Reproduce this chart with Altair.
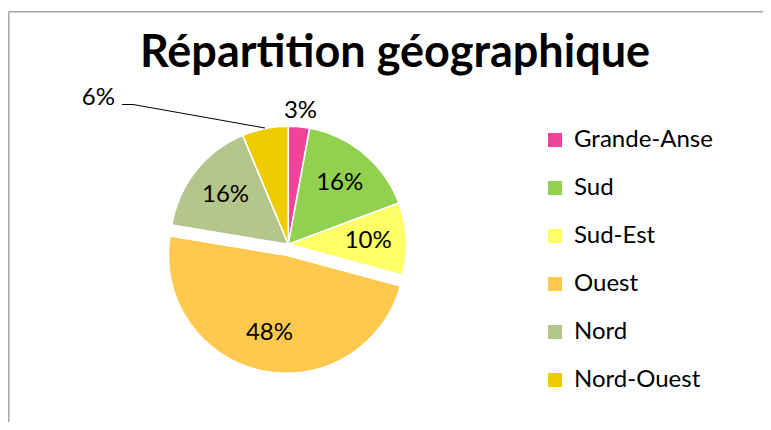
import altair as alt
import pandas as pd

regions = ["Grande-Anse", "Sud", "Sud-Est", "Ouest", "Nord", "Nord-Ouest"]
values = [2.9, 16.4, 9.9, 48.4, 16.1, 6.3]
labels = ["3%", "16%", "10%", "48%", "16%", "6%"]
colors = ["#F0449B", "#92D050", "#FFFF66", "#FFC94F", "#B4C68C", "#EECC00"]
title_text = ["Répartition géographique"]

df = pd.DataFrame({"region": regions, "value": values, "label": labels,
                   "order": list(range(len(regions)))})
tdf = pd.DataFrame({"t": title_text})

FONT = "Lato"
CX, CY = 280.3, 166.3      # pie centre (view coords)
EX, EY = 278.4, 177.3      # exploded slice centre
R = 118

base = alt.Chart(df).transform_window(
    cum="sum(value)", sort=[alt.SortField("order")], frame=[None, 0]
).transform_joinaggregate(total="sum(value)").transform_calculate(
    t1="datum.cum / datum.total * 2 * PI",
    t0="(datum.cum - datum.value) / datum.total * 2 * PI",
).transform_calculate(mid="(datum.t0 + datum.t1) / 2")

color = alt.Color("region:N", scale=alt.Scale(domain=regions, range=colors),
                  sort=regions,
                  legend=alt.Legend(title=None, orient="none", legendX=535, legendY=50,
                                    symbolType="square", symbolSize=196,
                                    symbolStrokeWidth=0, labelFont=FONT,
                                    labelFontSize=24, labelColor="#000000",
                                    labelOffset=7, rowPadding=24, padding=0,
                                    labelLimit=300))

arcs_main = base.transform_filter("datum.region != 'Ouest'").mark_arc(
    radius=R, stroke="white", strokeWidth=1.5
).encode(theta=alt.Theta("t0:Q", scale=None), theta2="t1:Q", color=color,
         x=alt.value(CX), y=alt.value(CY))

arcs_expl = base.transform_filter("datum.region == 'Ouest'").mark_arc(
    radius=R, stroke="white", strokeWidth=1.5
).encode(theta=alt.Theta("t0:Q", scale=None), theta2="t1:Q", color=color,
         x=alt.value(EX), y=alt.value(EY))

txt = dict(font=FONT, fontSize=24, color="#000000", align="center", baseline="middle")

lab_inner = base.transform_filter(
    "datum.region == 'Sud' || datum.region == 'Sud-Est' || datum.region == 'Nord'"
).mark_text(**txt).encode(theta=alt.Theta("mid:Q", scale=None),
                          radius=alt.value(80), text="label:N",
                          x=alt.value(CX), y=alt.value(CY))

lab_ouest = base.transform_filter("datum.region == 'Ouest'").mark_text(**txt).encode(
    theta=alt.Theta("mid:Q", scale=None), radius=alt.value(80), text="label:N",
    x=alt.value(EX), y=alt.value(EY))

lab_ga = base.transform_filter("datum.region == 'Grande-Anse'").mark_text(**txt).encode(
    theta=alt.Theta("mid:Q", scale=None), radius=alt.value(134), text="label:N",
    x=alt.value(CX), y=alt.value(CY))

lab_no = base.transform_filter("datum.region == 'Nord-Ouest'").mark_text(
    font=FONT, fontSize=24, color="#000000", align="right", baseline="alphabetic"
).encode(text="label:N", x=alt.value(107), y=alt.value(27))

leader1 = base.transform_filter("datum.region == 'Nord-Ouest'").mark_rule(
    color="#000000", strokeWidth=1
).encode(x=alt.value(114), x2=alt.value(125), y=alt.value(26.5), y2=alt.value(26.5))
leader2 = base.transform_filter("datum.region == 'Nord-Ouest'").mark_rule(
    color="#000000", strokeWidth=1
).encode(x=alt.value(125), x2=alt.value(257), y=alt.value(26.5), y2=alt.value(50))

title = alt.Chart(tdf).mark_text(
    font=FONT, fontSize=45, fontWeight="bold", color="#000000",
    align="center", baseline="alphabetic"
).encode(text="t:N", x=alt.value(387), y=alt.value(-11))

frame_top = alt.Chart(tdf).mark_rule(color="#A6A6A6", strokeWidth=1.5).encode(
    x=alt.value(0.8), x2=alt.value(755), y=alt.value(-66.3), y2=alt.value(-66.3))
frame_left = alt.Chart(tdf).mark_rule(color="#A6A6A6", strokeWidth=1.5).encode(
    x=alt.value(0.8), x2=alt.value(0.8), y=alt.value(-66.3), y2=alt.value(344))

chart = alt.layer(frame_top, frame_left, title, arcs_main, arcs_expl, lab_inner,
                  lab_ouest, lab_ga, leader1, leader2, lab_no).properties(
    width=755, height=344,
    autosize=alt.AutoSizeParams(type="none"),
    padding={"left": 0, "top": 70, "right": 0, "bottom": 0},
).configure_view(stroke=None)

chart.save("out.html", embed_options={"renderer": "svg", "actions": False})
